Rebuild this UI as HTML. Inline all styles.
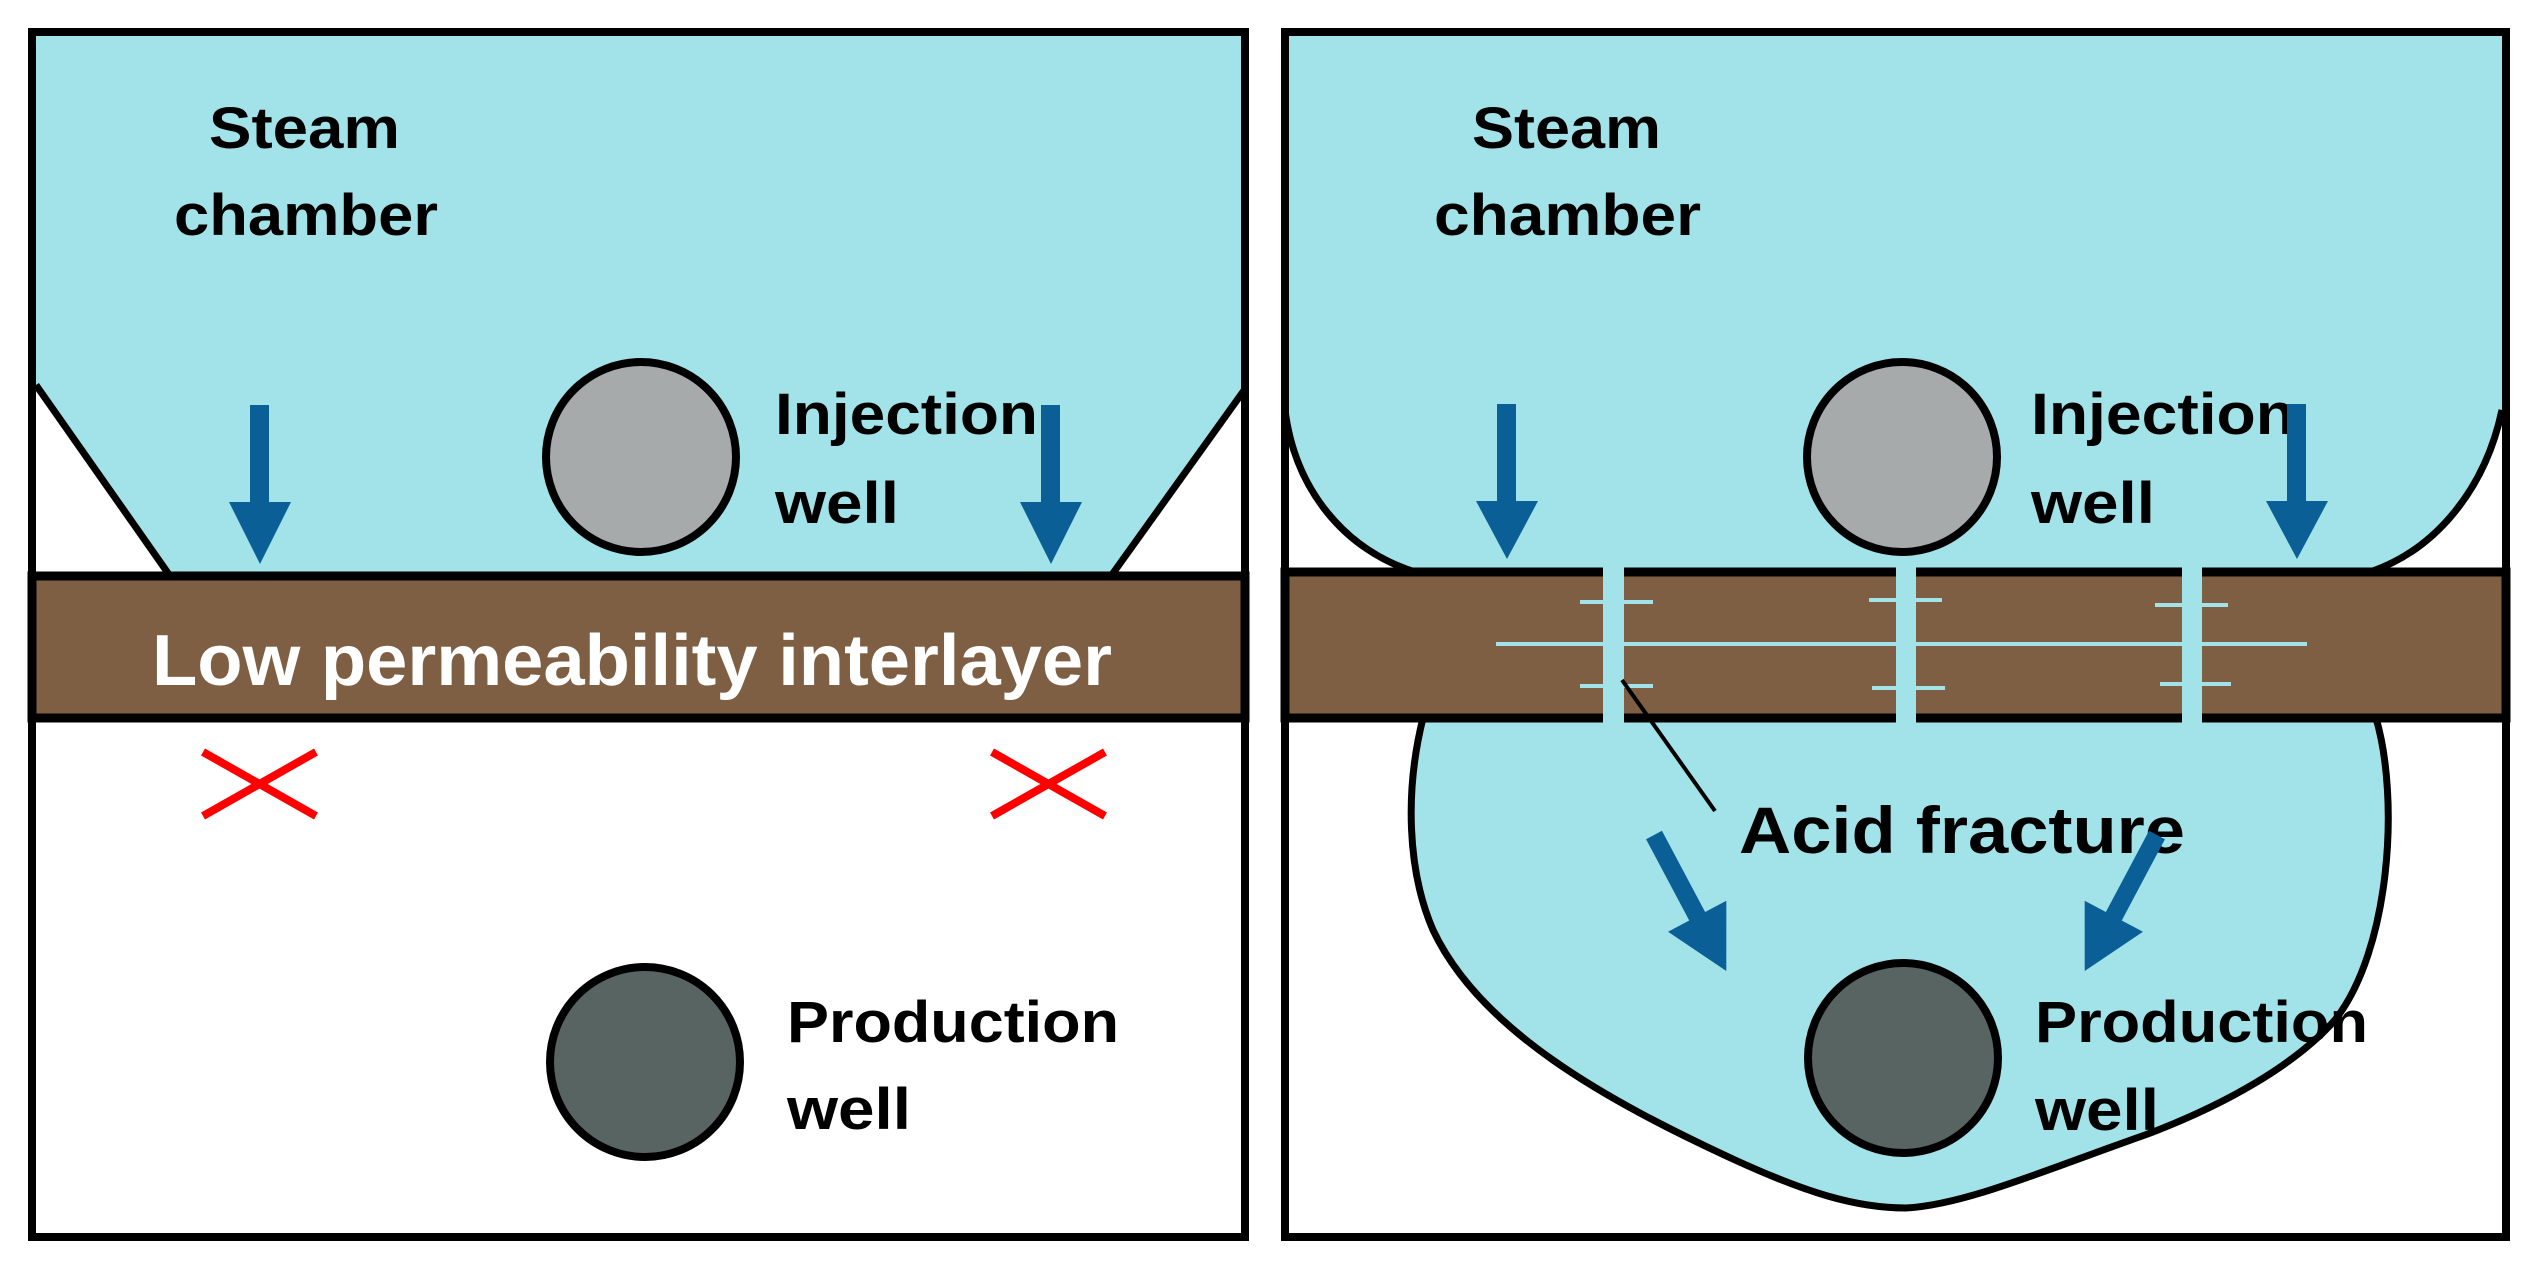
<!DOCTYPE html>
<html><head><meta charset="utf-8"><style>
html,body{margin:0;padding:0;background:#fff;}
svg{display:block}
text{font-family:"Liberation Sans",sans-serif;font-weight:bold;}
</style></head><body>
<svg width="2531" height="1261" viewBox="0 0 2531 1261" xmlns="http://www.w3.org/2000/svg">
<!-- LEFT PANEL -->
<g>
  <rect x="32" y="32" width="1213" height="1205" fill="#fff"/>
  <path d="M36,32 L1245,32 L1245,389 L1111,576 L170,576 L36,385 Z" fill="#a2e3e9"/>
  <path d="M36,385 L170,576 M1245,389 L1111,576" stroke="#000" stroke-width="7" fill="none"/>
  <rect x="32" y="576" width="1213" height="142" fill="#7f5f43" stroke="#000" stroke-width="9"/>
  <rect x="32" y="32" width="1213" height="1205" fill="none" stroke="#000" stroke-width="8"/>
  <text x="632" y="685" font-size="72" fill="#fff" text-anchor="middle" textLength="960" lengthAdjust="spacingAndGlyphs">Low permeability interlayer</text>
  <circle cx="641" cy="457" r="95" fill="#a6aaaa" stroke="#000" stroke-width="8"/>
  <circle cx="645" cy="1062" r="95" fill="#576461" stroke="#000" stroke-width="8"/>
  <text x="209" y="148" font-size="58" fill="#000" textLength="191" lengthAdjust="spacingAndGlyphs">Steam</text>
  <text x="174" y="235" font-size="58" fill="#000" textLength="264" lengthAdjust="spacingAndGlyphs">chamber</text>
  <text x="775" y="434" font-size="58" fill="#000" textLength="263" lengthAdjust="spacingAndGlyphs">Injection</text>
  <text x="775" y="523" font-size="58" fill="#000" textLength="124" lengthAdjust="spacingAndGlyphs">well</text>
  <text x="787" y="1042" font-size="58" fill="#000" textLength="332" lengthAdjust="spacingAndGlyphs">Production</text>
  <text x="787" y="1129" font-size="58" fill="#000" textLength="124" lengthAdjust="spacingAndGlyphs">well</text>
  <path d="M250,405 h19 v97 h22 l-31,62 l-31,-62 h21 Z" fill="#0a5f97"/>
  <path d="M1041,405 h19 v97 h22 l-31,62 l-31,-62 h21 Z" fill="#0a5f97"/>
  <path d="M203,752 L316,816 M203,816 L316,752" stroke="#f00" stroke-width="8"/>
  <path d="M992,752 L1105,816 M992,816 L1105,752" stroke="#f00" stroke-width="8"/>
</g>
<!-- RIGHT PANEL -->
<g transform="translate(1265,0)">
  <rect x="20" y="32" width="1221" height="1205" fill="#fff"/>
  <path d="M20,32 L1237,32 L1237,410 C1220,490 1170,550 1105,572 L150,572 C80,550 30,490 20,410 Z" fill="#a2e3e9"/>
  <path d="M20,410 C30,490 80,550 150,572 M1237,410 C1220,490 1170,550 1105,572" stroke="#000" stroke-width="7" fill="none"/>
  <path d="M158,718 C140,790 142,870 168,930 C215,1030 340,1100 470,1160 C540,1192 590,1208 641,1208 C700,1205 780,1170 880,1135 C960,1105 1030,1065 1070,1020 C1125,950 1135,800 1111,718 Z" fill="#a2e3e9" stroke="#000" stroke-width="7"/>
  <rect x="20" y="572" width="1221" height="146" fill="#7f5f43" stroke="#000" stroke-width="9"/>
  <rect x="20" y="32" width="1221" height="1205" fill="none" stroke="#000" stroke-width="8"/>
  <!-- fractures -->
  <rect x="338" y="566" width="21" height="158" fill="#a2e3e9"/>
  <rect x="631" y="566" width="20" height="158" fill="#a2e3e9"/>
  <rect x="917" y="566" width="20" height="158" fill="#a2e3e9"/>
  <g stroke="#a2e3e9" stroke-width="4">
    <line x1="231" y1="644" x2="1042" y2="644"/>
    <line x1="315" y1="602" x2="388" y2="602"/>
    <line x1="315" y1="686" x2="388" y2="686"/>
    <line x1="604" y1="600" x2="677" y2="600"/>
    <line x1="607" y1="688" x2="680" y2="688"/>
    <line x1="890" y1="605" x2="963" y2="605"/>
    <line x1="895" y1="684" x2="966" y2="684"/>
  </g>
  <line x1="357" y1="680" x2="450" y2="811" stroke="#000" stroke-width="4"/>
  <circle cx="637" cy="457" r="95" fill="#a6aaaa" stroke="#000" stroke-width="8"/>
  <circle cx="638" cy="1058" r="95" fill="#576461" stroke="#000" stroke-width="8"/>
  <text x="207" y="148" font-size="58" fill="#000" textLength="189" lengthAdjust="spacingAndGlyphs">Steam</text>
  <text x="169" y="235" font-size="58" fill="#000" textLength="267" lengthAdjust="spacingAndGlyphs">chamber</text>
  <text x="766" y="434" font-size="58" fill="#000" textLength="264" lengthAdjust="spacingAndGlyphs">Injection</text>
  <text x="766" y="523" font-size="58" fill="#000" textLength="124" lengthAdjust="spacingAndGlyphs">well</text>
  <text x="770" y="1042" font-size="58" fill="#000" textLength="333" lengthAdjust="spacingAndGlyphs">Production</text>
  <text x="770" y="1130" font-size="58" fill="#000" textLength="124" lengthAdjust="spacingAndGlyphs">well</text>
  <text x="474" y="853" font-size="66" fill="#000" textLength="446" lengthAdjust="spacingAndGlyphs">Acid fracture</text>
  <path d="M232,404 h19 v97 h22 l-31,58 l-31,-58 h21 Z" fill="#0a5f97"/>
  <path d="M1022,404 h19 v97 h22 l-31,58 l-31,-58 h21 Z" fill="#0a5f97"/>
  <g transform="translate(389,835) rotate(-28)">
    <path d="M-9,0 h18 v92 h24 l-33,62 l-33,-62 h24 Z" fill="#0a5f97"/>
  </g>
  <g transform="translate(892,835) rotate(28)">
    <path d="M-9,0 h18 v92 h24 l-33,62 l-33,-62 h24 Z" fill="#0a5f97"/>
  </g>
</g>
</svg>
</body></html>
